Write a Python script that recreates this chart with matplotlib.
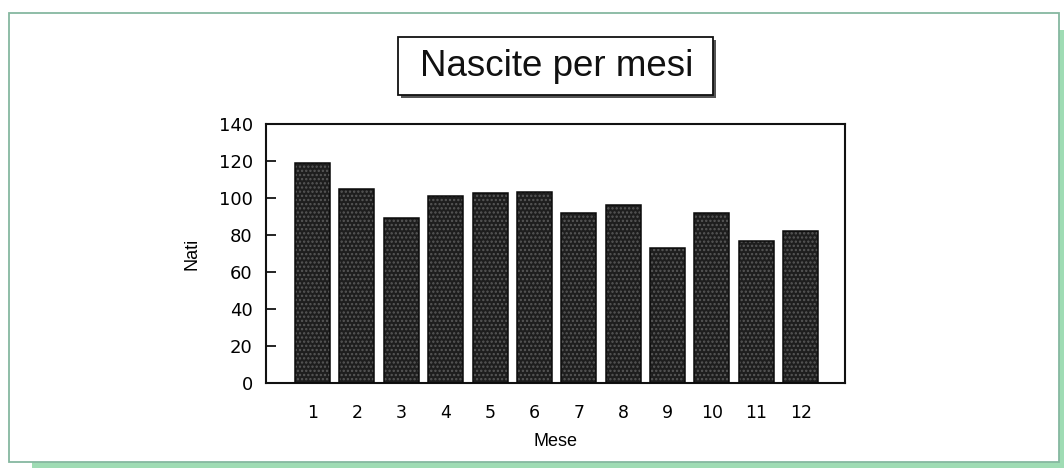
import matplotlib
matplotlib.use("Agg")
import matplotlib.pyplot as plt
from matplotlib.patches import Rectangle

months = [1, 2, 3, 4, 5, 6, 7, 8, 9, 10, 11, 12]
births = [119, 105, 89, 101, 102.5, 103.5, 92, 96, 73, 92, 77, 82]
month_labels = [str(m) for m in months]
y_ticks = [0, 20, 40, 60, 80, 100, 120, 140]

plt.rcParams['font.family'] = ['Liberation Sans', 'DejaVu Sans']
plt.rcParams['hatch.linewidth'] = 1.1

W, H = 1064, 472
fig = plt.figure(figsize=(W / 100, H / 100), dpi=100)
fig.patch.set_facecolor('white')

def fx(px):
    return px / W

def fy(py):
    return 1 - py / H

# green page frame with shadow
fig.patches.append(Rectangle((fx(32), fy(468)), fx(1064 - 32), (468 - 461) / H,
                             transform=fig.transFigure, facecolor='#9fdcb4',
                             edgecolor='none', zorder=0))
fig.patches.append(Rectangle((fx(1058), fy(468)), fx(6), (468 - 30) / H,
                             transform=fig.transFigure, facecolor='#9fdcb4',
                             edgecolor='none', zorder=0))
fig.patches.append(Rectangle((fx(9), fy(462)), fx(1059 - 9), (462 - 13) / H,
                             transform=fig.transFigure, facecolor='white',
                             edgecolor='#86b8a0', linewidth=1.3, zorder=1))

ax = fig.add_axes([fx(266), fy(383), fx(845 - 266), (383 - 124) / H])
ax.set_zorder(2)

ax.bar(months, births, width=0.79, color='#1e1e1e', edgecolor='#585858',
       hatch='....', linewidth=0, zorder=2)
ax.bar(months, births, width=0.79, fill=False, edgecolor='#0a0a0a',
       linewidth=1.1, zorder=3)

ax.set_xlim(-0.05, 13.0)
ax.set_ylim(0, 140)
ax.set_xticks(months)
ax.set_xticklabels(month_labels, family=['DejaVu Sans'])
ax.set_yticks(y_ticks)
ax.set_yticklabels([str(v) for v in y_ticks], family=['DejaVu Sans'])
ax.tick_params(axis='x', length=0, pad=15, labelsize=12.5)
ax.tick_params(axis='y', direction='in', length=7, width=1.2, pad=9.5, labelsize=13)
for s in ax.spines.values():
    s.set_linewidth(1.5)
    s.set_color('#111111')

ax.set_xlabel('Mese', fontsize=13, labelpad=8)
ax.set_ylabel('Nati', fontsize=13, labelpad=13)

# title box with shadow
fig.patches.append(Rectangle((fx(401), fy(98)), fx(713 - 398), (95 - 37) / H,
                             transform=fig.transFigure, facecolor='#555555',
                             edgecolor='none', zorder=3))
fig.patches.append(Rectangle((fx(398), fy(95)), fx(713 - 398), (95 - 37) / H,
                             transform=fig.transFigure, facecolor='white',
                             edgecolor='#111111', linewidth=1.3, zorder=4))
fig.text(fx(557), fy(67), 'Nascite per mesi', ha='center', va='center',
         fontsize=26.5, color='#111111', zorder=5)

fig.savefig('out.png', dpi=100, facecolor='white')
